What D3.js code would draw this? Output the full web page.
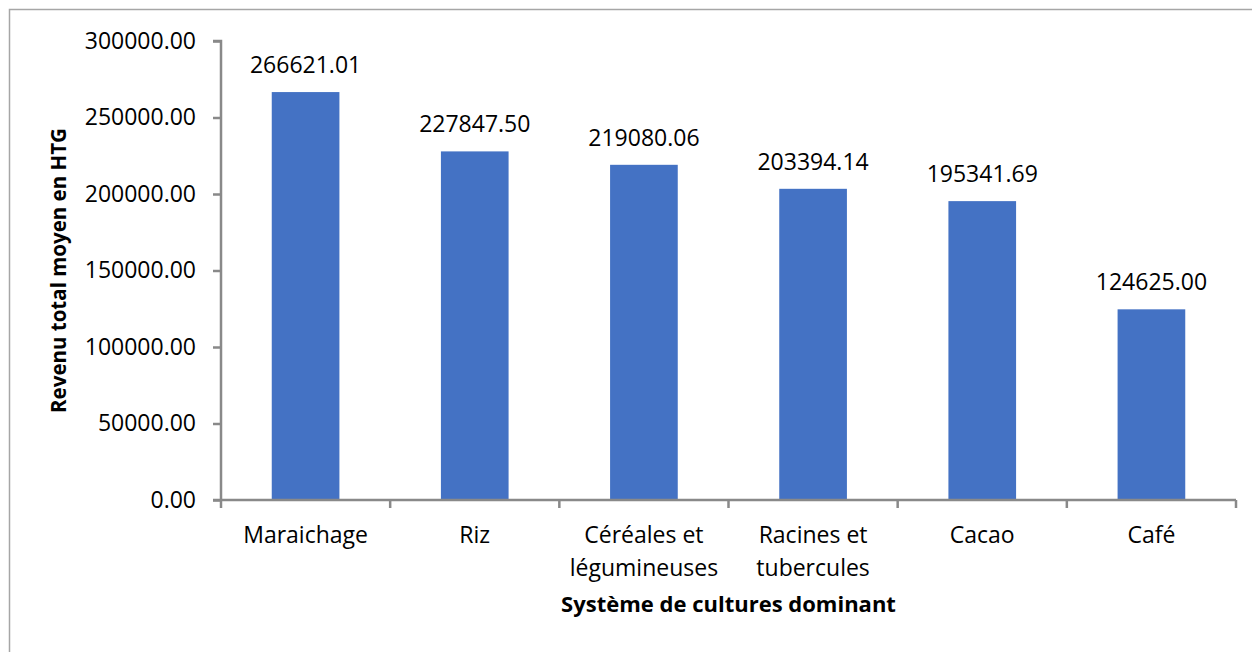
<!DOCTYPE html>
<html>
<head>
<meta charset="utf-8">
<script src="https://cdn.jsdelivr.net/npm/d3@7"></script>
<style>
  body { margin: 0; background: #fff; }
  svg text { font-family: "Open Sans", "Noto Sans", sans-serif; fill: #000; }
</style>
</head>
<body>
<div id="chart"></div>
<script>
// data
var categories = ["Maraichage", "Riz", "Céréales et|légumineuses", "Racines et|tubercules", "Cacao", "Café"];
var values = [266621.01, 227847.50, 219080.06, 203394.14, 195341.69, 124625.00];
var yTicks = [0, 50000, 100000, 150000, 200000, 250000, 300000];
var yTitle = "Revenu total moyen en HTG";
var xTitle = "Système de cultures dominant";

var width = 1252, height = 652;
var plotL = 221, plotR = 1236, plotT = 41, plotB = 500;
var axisColor = "#898989";

var svg = d3.select("#chart").append("svg")
  .attr("width", width)
  .attr("height", height);

// outer frame
svg.append("rect")
  .attr("x", 9.5).attr("y", 9.5)
  .attr("width", width + 20).attr("height", height + 20)
  .attr("fill", "#fff")
  .attr("stroke", "#a6a6a6")
  .attr("stroke-width", 1.5);

var x = d3.scaleBand()
  .domain(categories)
  .range([plotL, plotR])
  .paddingInner(0.6)
  .paddingOuter(0.3);

var y = d3.scaleLinear()
  .domain([0, 300000])
  .range([plotB, plotT]);

// bars
svg.selectAll("rect.bar")
  .data(values)
  .enter().append("rect")
  .attr("class", "bar")
  .attr("x", (d, i) => x(categories[i]))
  .attr("y", d => y(d))
  .attr("width", x.bandwidth())
  .attr("height", d => y(0) - y(d))
  .attr("fill", "#4472c4");

// value labels
svg.selectAll("text.val")
  .data(values)
  .enter().append("text")
  .attr("class", "val")
  .attr("x", (d, i) => x(categories[i]) + x.bandwidth() / 2)
  .attr("y", d => y(d) - 19)
  .attr("text-anchor", "middle")
  .style("font-size", "23px")
  .text(d => d3.format(".2f")(d));

// y axis
var yAxis = svg.append("g")
  .attr("transform", "translate(" + plotL + ",0)")
  .call(d3.axisLeft(y).tickValues(yTicks).tickSize(8).tickPadding(17).tickFormat(d3.format(".2f")));
yAxis.select(".domain").attr("stroke", axisColor).attr("stroke-width", 2.5)
  .attr("d", "M-8," + plotT + "H0V" + plotB);
yAxis.selectAll(".tick line").attr("stroke", axisColor).attr("stroke-width", 2.5);
yAxis.selectAll(".tick text").style("font-size", "23px").attr("fill", "#000");

// x axis with ticks at category boundaries
var bounds = d3.range(categories.length + 1).map(k => plotL + k * (plotR - plotL) / categories.length);
svg.append("line")
  .attr("x1", plotL - 8).attr("x2", plotR)
  .attr("y1", plotB).attr("y2", plotB)
  .attr("stroke", axisColor).attr("stroke-width", 2.5);
svg.selectAll("line.xtick")
  .data(bounds)
  .enter().append("line")
  .attr("class", "xtick")
  .attr("x1", d => d).attr("x2", d => d)
  .attr("y1", plotB).attr("y2", plotB + 8)
  .attr("stroke", axisColor).attr("stroke-width", 2.5);

var catLabels = svg.selectAll("text.cat")
  .data(categories)
  .enter().append("text")
  .attr("class", "cat")
  .attr("text-anchor", "middle")
  .attr("transform", d => "translate(" + (x(d) + x.bandwidth() / 2) + ",543)")
  .style("font-size", "23px");
catLabels.each(function(d) {
  var lines = d.split("|");
  var t = d3.select(this);
  lines.forEach((l, i) => {
    t.append("tspan").attr("x", 0).attr("y", i * 33).text(l);
  });
});

// axis titles
svg.append("text")
  .attr("x", (plotL + plotR) / 2)
  .attr("y", 612)
  .attr("text-anchor", "middle")
  .style("font-size", "22px")
  .style("font-weight", "bold")
  .text(xTitle);

svg.append("text")
  .attr("transform", "translate(66," + ((plotT + plotB) / 2) + ") rotate(-90)")
  .attr("text-anchor", "middle")
  .style("font-size", "20.5px")
  .style("font-weight", "bold")
  .text(yTitle);
</script>
</body>
</html>
